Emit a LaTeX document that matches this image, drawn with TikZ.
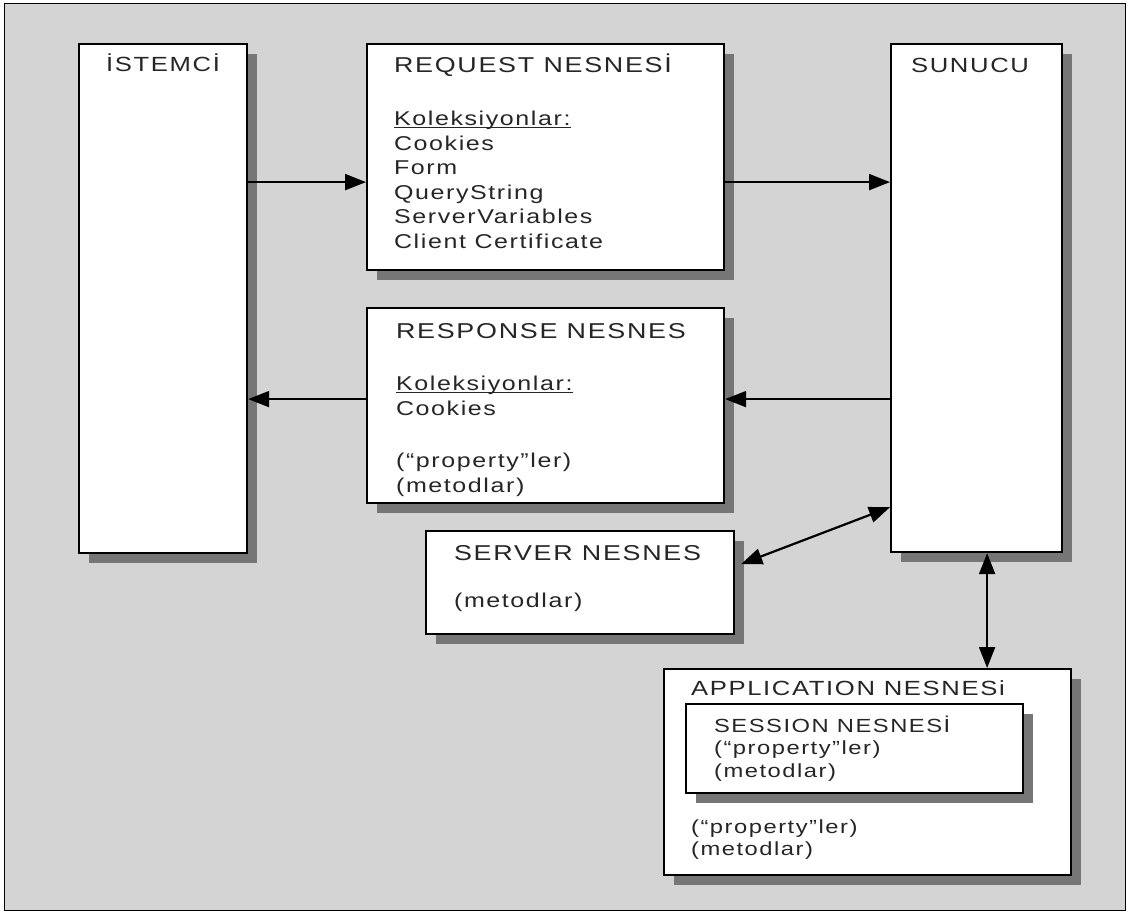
\documentclass[tikz,border=0pt]{standalone}
\usepackage{fontspec}
\setmainfont{Liberation Sans}[FakeStretch=1.25,LetterSpace=8]
\usetikzlibrary{arrows.meta,shadows}
\definecolor{bgdots}{RGB}{212,212,212}
\definecolor{shadedots}{RGB}{118,118,118}
% 紧贴基线的下划线
\newcommand\kolul[1]{\setbox0\hbox{#1}\rlap{\rule[-2.5pt]{\wd0}{1.1pt}}\box0}

\begin{document}
\begin{tikzpicture}[x=1pt, y=-1pt, line width=2.2pt, line join=miter,
  box/.style={draw=black, fill=white, anchor=north west, inner sep=0pt,
    drop shadow={shadow xshift=10pt, shadow yshift=-10pt, fill=shadedots, draw=none, opacity=1}},
  lbl/.style={anchor=base west, inner sep=0pt, align=left, text=black!85, font=\fontsize{20}{24.5}\selectfont},
  ttl/.style={lbl, font=\fontsize{21.5}{24.5}\selectfont},
  arr/.style={-{Triangle[length=21pt,width=16pt]}, line width=2.2pt},
  dbl/.style={{Triangle[length=21pt,width=16pt]}-{Triangle[length=21pt,width=16pt]}, line width=2.2pt}]

  %% ════ 底纹与外框 ════
  \draw[line width=1pt, fill=bgdots] (4,4) rectangle (1125,910);

  %% ════ 方框（左上角 + 尺寸）════
  \node[box, minimum width=168, minimum height=509] (cli) at (78,43) {};    % box(78,43,168,509)
  \node[box, minimum width=357, minimum height=226] (req) at (366,43) {};   % box(366,43,357,226)
  \node[box, minimum width=171, minimum height=508] (sun) at (890,43) {};   % box(890,43,171,508)
  \node[box, minimum width=357, minimum height=195] (rsp) at (366,307) {};  % box(366,307,357,195)
  \node[box, minimum width=308, minimum height=103] (ser) at (425,530) {};  % box(425,530,308,103)
  \node[box, minimum width=407, minimum height=206] (app) at (663,668) {};  % box(663,668,407,206)
  \node[box, minimum width=337, minimum height=89] (ses) at (685,703) {};   % box(685,703,337,89)

  %% ════ 文字（多行的取末行基线）════
  \node[lbl, font=\fontsize{20.5}{24.5}\selectfont, anchor=base] (cliT) at (163,72) {İSTEMCİ};
  \node[lbl, font=\fontsize{20.5}{24.5}\selectfont, anchor=base] (sunT) at (970,73) {SUNUCU};
  \node[ttl] (reqT) at (393,73) {REQUEST NESNESİ};
  \node[lbl] (reqK) at (393,248) {\kolul{Koleksiyonlar:}\\Cookies\\Form\\QueryString\\ServerVariables\\Client Certificate};
  \node[ttl] (rspT) at (395,338) {RESPONSE NESNES};
  \node[lbl] (rspK) at (395,492) {\kolul{Koleksiyonlar:}\\Cookies\\[28pt](“property”ler)\\(metodlar)};
  \node[ttl] (serT) at (453,560) {SERVER NESNES};
  \node[lbl] (serM) at (453,607) {(metodlar)};
  \node[lbl, font=\fontsize{20.5}{24.5}\selectfont] (appT) at (690,695) {APPLICATION NESNESi};
  \node[lbl, font=\fontsize{19}{22.5}\selectfont] (sesT) at (713,777) {SESSION NESNESİ\\(“property”ler)\\(metodlar)};
  \node[lbl, font=\fontsize{19}{22}\selectfont] (appP) at (690,855) {(“property”ler)\\(metodlar)};

  %% ════ 箭头 ════
  \coordinate (q) at ([yshift=-25pt]req.west);   % y=181
  \draw[arr] (cli.east |- q) -- (q);
  \draw[arr] (q -| req.east) -- (q -| sun.west);
  \coordinate (r) at ([yshift=6.5pt]rsp.east);   % y=398
  \draw[arr] (r -| sun.west) -- (r);
  \draw[arr] (r -| rsp.west) -- (r -| cli.east);
  \draw[dbl] ([shift={(6pt,-34pt)}]ser.north east) -- ([yshift=46pt]sun.south west);
  \coordinate (v) at ([xshift=10.5pt]sun.south); % x=986
  \draw[dbl] (v) -- (v |- app.north);

  % 画布 1129x915
  \pgfresetboundingbox
  \path[use as bounding box] (0,0) rectangle (1129,915);
\end{tikzpicture}
\end{document}
